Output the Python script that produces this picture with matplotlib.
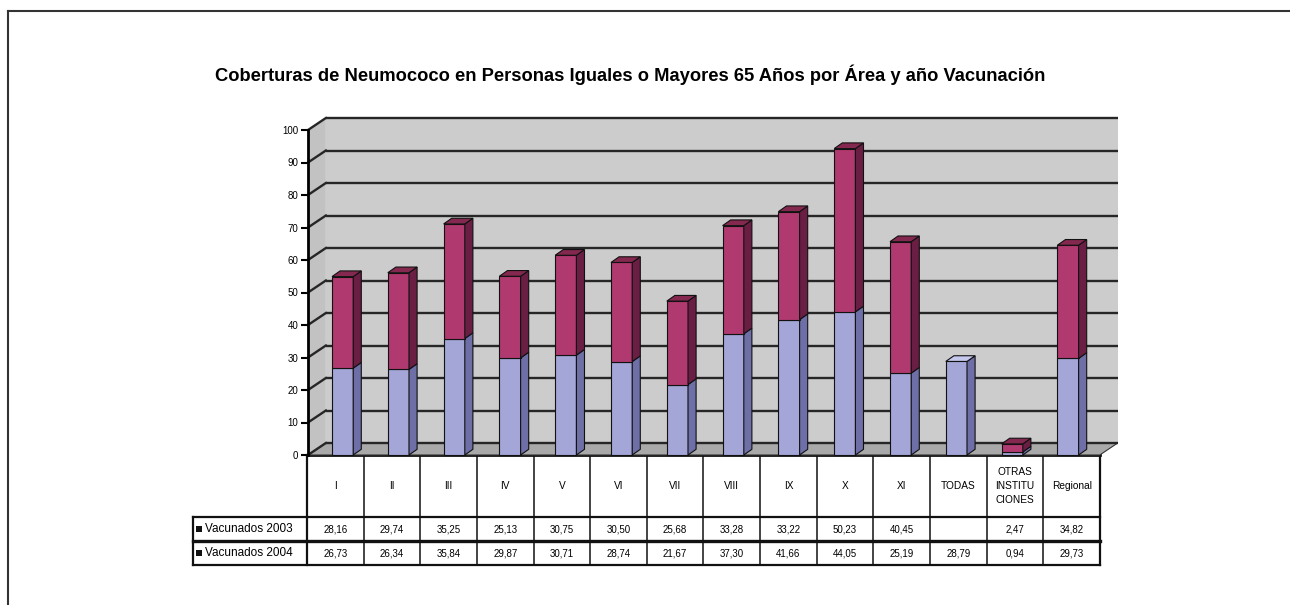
import matplotlib
matplotlib.use('Agg')
import matplotlib.pyplot as plt
from matplotlib.patches import Polygon, Rectangle

plt.rcParams['font.family'] = ['Liberation Sans', 'DejaVu Sans']

# ---------------- data ----------------
categories = ['I', 'II', 'III', 'IV', 'V', 'VI', 'VII', 'VIII', 'IX', 'X', 'XI',
              'TODAS', 'OTRAS\nINSTITU\nCIONES', 'Regional']
vac_2003 = [28.16, 29.74, 35.25, 25.13, 30.75, 30.50, 25.68, 33.28, 33.22, 50.23,
            40.45, None, 2.47, 34.82]
vac_2004 = [26.73, 26.34, 35.84, 29.87, 30.71, 28.74, 21.67, 37.30, 41.66, 44.05,
            25.19, 28.79, 0.94, 29.73]
series_labels = ['Vacunados 2003', 'Vacunados 2004']
yticks = list(range(0, 101, 10))
title = 'Coberturas de Neumococo en Personas Iguales o Mayores 65 Años por Área y año Vacunación'

# ---------------- layout ----------------
W, H = 1290, 605
fig = plt.figure(figsize=(W / 100, H / 100), dpi=100)


def px_rect(l, t, r, b):
    return [l / W, 1 - b / H, (r - l) / W, (b - t) / H]


S = 55.8          # px per category (bars)
X0 = 315.26       # px of u = 0
VS = 3.25         # px per value unit
Y0 = 455          # px of value 0
U_MIN, U_MAX = -0.8, 14.6
V_MIN, V_MAX = -4, 106
u_left, u_right = -0.13, 14.06
DU, DV = 0.32, 3.69        # depth of floor
BW, BDU, BDV = 0.38, 0.145, 1.75   # bar width / depth
BAR_OFF = 0.3

# overlay axes in pixel coordinates (frame, title, table)
ov = fig.add_axes([0, 0, 1, 1])
ov.set_xlim(0, W)
ov.set_ylim(H, 0)
ov.axis('off')

ax = fig.add_axes(px_rect(X0 + U_MIN * S, Y0 - V_MAX * VS, X0 + U_MAX * S, Y0 - V_MIN * VS))
ax.set_xlim(U_MIN, U_MAX)
ax.set_ylim(V_MIN, V_MAX)
ax.patch.set_visible(False)
ax.set_zorder(2)
for s in ['top', 'right', 'bottom']:
    ax.spines[s].set_visible(False)
ax.spines['left'].set_position(('data', u_left))
ax.spines['left'].set_bounds(0, 100)
ax.spines['left'].set_linewidth(2)
ax.set_xticks([])
ax.set_yticks(yticks)
ax.set_yticklabels([str(t) for t in yticks], fontsize=7)
ax.tick_params(axis='y', length=5, width=1.5, pad=2)

# walls and floor
wall_c, side_c, floor_c = '#cccccc', '#c2c2c2', '#a9a9a9'
ax.add_patch(Polygon([(u_left + DU, DV), (u_right + DU, DV), (u_right + DU, 100 + DV),
                      (u_left + DU, 100 + DV)], closed=True, fc=wall_c, ec='none', zorder=1))
ax.add_patch(Polygon([(u_left, 0), (u_left + DU, DV), (u_left + DU, 100 + DV), (u_left, 100)],
                     closed=True, fc=side_c, ec='none', zorder=1))
ax.add_patch(Polygon([(u_left, 0), (u_right, 0), (u_right + DU, DV), (u_left + DU, DV)],
                     closed=True, fc=floor_c, ec='#333333', lw=0.8, zorder=1))
for v in yticks:
    ax.plot([u_left + DU, u_right + DU], [v + DV, v + DV], color='#262626', lw=1.7, zorder=2,
            solid_capstyle='butt')
    ax.plot([u_left, u_left + DU], [v, v + DV], color='#262626', lw=1.7, zorder=2)

# bars
lav = ('#a3a6d6', '#6d6fa6', '#c6c8ee')
mag = ('#b03a6f', '#6a1e43', '#84284f')


def draw_seg(u0, y0, y1, cols, top):
    front, side, topc = cols
    ax.add_patch(Rectangle((u0, y0), BW, y1 - y0, fc=front, ec='#111111', lw=0.8, zorder=3))
    ax.add_patch(Polygon([(u0 + BW, y0), (u0 + BW + BDU, y0 + BDV), (u0 + BW + BDU, y1 + BDV),
                          (u0 + BW, y1)], closed=True, fc=side, ec='#111111', lw=0.8, zorder=3))
    if top:
        ax.add_patch(Polygon([(u0, y1), (u0 + BDU, y1 + BDV), (u0 + BW + BDU, y1 + BDV),
                              (u0 + BW, y1)], closed=True, fc=topc, ec='#111111', lw=0.8, zorder=3))


for i in range(len(categories)):
    u0 = i + BAR_OFF
    a = vac_2004[i]
    b = vac_2003[i] if vac_2003[i] is not None else 0
    draw_seg(u0, 0, a, lav, top=(b == 0))
    if b > 0:
        draw_seg(u0, a, a + b, mag, top=True)

# ---------------- frame & title ----------------
ov.plot([8, 8], [H, 11], color='#333333', lw=1.5)
ov.plot([8, W], [11, 11], color='#333333', lw=1.5)
ov.text(630, 75, title, fontsize=13.2, fontweight='bold', ha='center', va='center')

# ---------------- table ----------------
TL, CW = 307, 56.64
LL = 193
y_top, y_h, y_r1, y_r2 = 455, 517, 541, 565
n = len(categories)
TR = TL + n * CW
lc = '#111111'
ov.plot([TL, TR], [y_top, y_top], color=lc, lw=2)
ov.plot([LL, TR], [y_h, y_h], color=lc, lw=1.6)
ov.plot([LL, TR], [y_r1, y_r1], color=lc, lw=2.4)
ov.plot([LL, TR], [y_r2, y_r2], color=lc, lw=1.6)
ov.plot([LL, LL], [y_h, y_r2], color=lc, lw=1.6)
for k in range(n + 1):
    x = TL + k * CW
    ov.plot([x, x], [y_top, y_r2], color=lc, lw=1.6 if k in (0, n) else 1.1)


def fmt(v):
    return '' if v is None else f'{v:.2f}'.replace('.', ',')


for k, cat in enumerate(categories):
    cx = TL + (k + 0.5) * CW
    ov.text(cx, (y_top + y_h) / 2, cat, fontsize=7.3, ha='center', va='center', linespacing=1.45)
    ov.text(cx, (y_h + y_r1) / 2, fmt(vac_2003[k]), fontsize=7, ha='center', va='center')
    ov.text(cx, (y_r1 + y_r2) / 2, fmt(vac_2004[k]), fontsize=7, ha='center', va='center')

for j, lab in enumerate(series_labels):
    yc = (y_h + y_r1) / 2 if j == 0 else (y_r1 + y_r2) / 2
    ov.add_patch(Rectangle((196, yc - 3), 6, 6, fc='#111111', ec='none'))
    ov.text(205, yc, lab, fontsize=8.5, ha='left', va='center')

fig.savefig('out.png', dpi=100)
